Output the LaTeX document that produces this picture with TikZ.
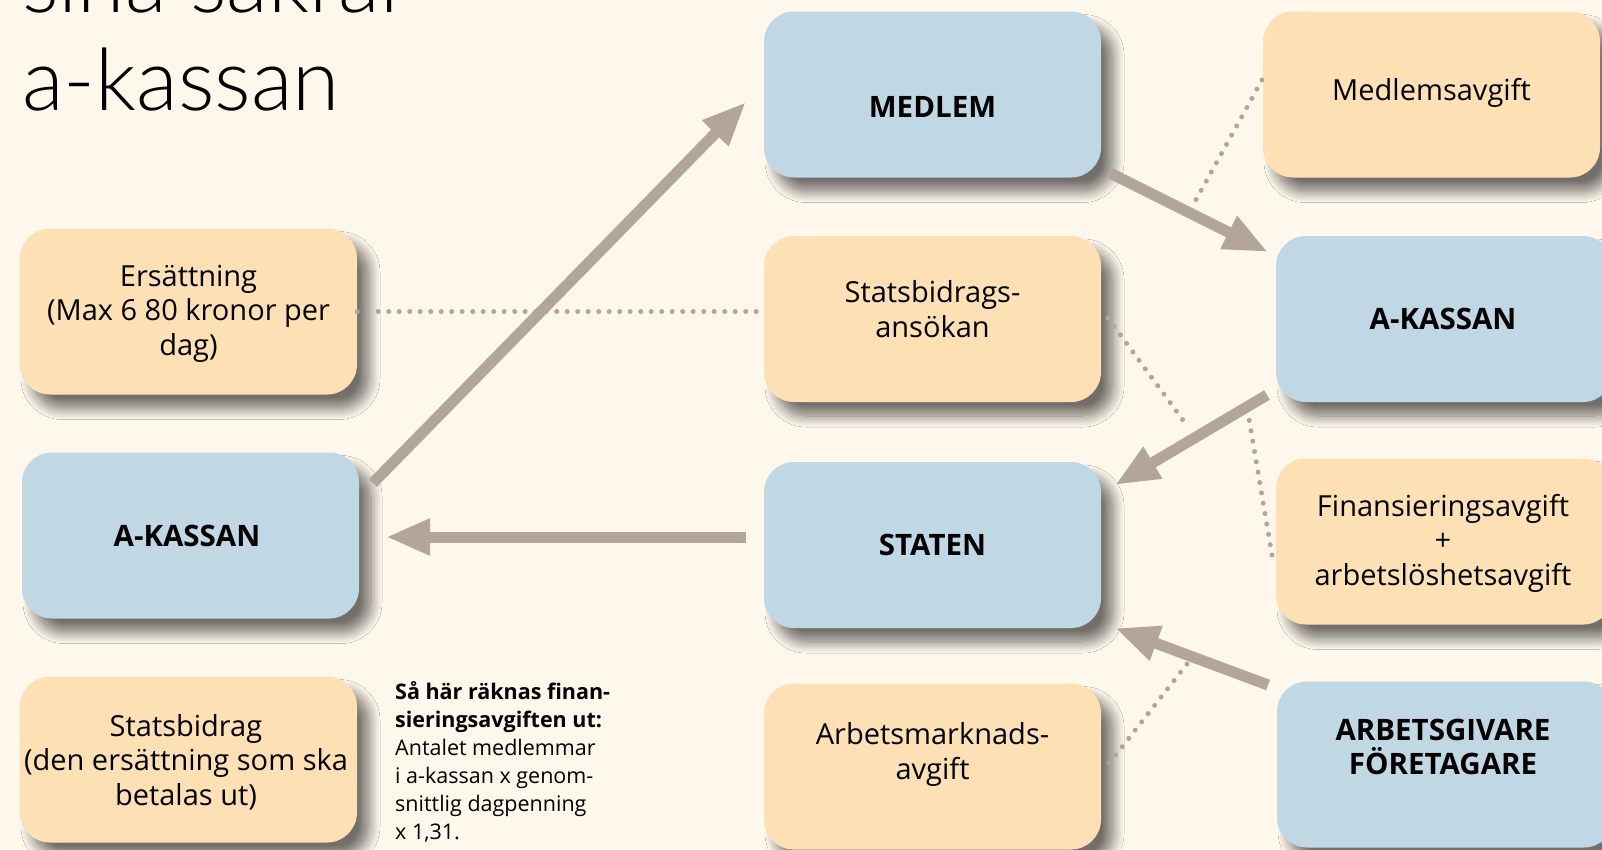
\documentclass[tikz,border=0pt]{standalone}
\usepackage{fontspec}
\setmainfont{Open Sans}
\newfontfamily\titlefont{Lato Light}
\usetikzlibrary{arrows.meta,shadows.blur}
\definecolor{bg}{HTML}{FDF7EC}
\definecolor{boxblue}{HTML}{C0D7E4}
\definecolor{boxorange}{HTML}{FDE1B5}
\definecolor{arrowc}{HTML}{B3A59C}
\begin{document}
\begin{tikzpicture}[x=1pt,y=-1pt,
  box/.style={rounded corners=30pt, minimum width=337pt, minimum height=166pt, inner sep=0pt,
    blur shadow={shadow xshift=12pt, shadow yshift=-14pt, shadow blur radius=11pt, shadow blur steps=12, shadow opacity=55}},
  bluebox/.style={box, fill=boxblue},
  orangebox/.style={box, fill=boxorange},
  flow/.style={draw=arrowc, line width=11pt, -{Triangle[length=44pt,width=34pt]}},
  dots/.style={draw=arrowc, line width=5pt, line cap=round, dash pattern=on 0pt off 10.5pt},
  lbl/.style={align=center, anchor=base, inner sep=0pt, font=\fontsize{29}{34.5}\selectfont},
  blbl/.style={align=center, anchor=base, inner sep=0pt, font=\fontsize{29.5}{33.5}\selectfont\bfseries},
  note/.style={align=left, anchor=base west, inner sep=0pt, font=\fontsize{21.5}{28}\selectfont},
  ttl/.style={anchor=base west, inner sep=0pt, font=\titlefont\fontsize{86}{98}\selectfont}]
\path[use as bounding box, fill=bg] (0,0) rectangle (1602,849);
\clip (0,0) rectangle (1602,849);

% title
\node[ttl] (titleA) at (22,12) {sina säkrar};
\node[ttl] (titleB) at (22,110) {a-kassan};

% boxes
\node[bluebox] (medlem) at (932.5,94.5) {};
\node[orangebox] (mavg) at (1431.5,94.5) {};
\node[orangebox] (ers) at (188.5,311.5) {};
\node[orangebox] (sbans) at (932.5,319) {};
\node[bluebox] (akR) at (1444.5,319) {};
\node[bluebox] (akL) at (190.5,535.5) {};
\node[bluebox] (staten) at (932.5,545) {};
\node[orangebox] (fin) at (1444.5,541.5) {};
\node[orangebox] (sb) at (188.5,759.5) {};
\node[orangebox] (amavg) at (932.5,766.5) {};
\node[bluebox] (arb) at (1445.5,764.5) {};

% labels (base anchor = baseline of last line)
\node[blbl] (tMedlem) at (932.5,117) {MEDLEM};
\node[lbl] (tMavg) at (1431.5,100) {Medlemsavgift};
\node[lbl] (tErs) at (188.5,355) {Ersättning\\(Max 6 80 kronor per\\dag)};
\node[lbl] (tSbans) at (932.5,337) {Statsbidrags-\\ansökan};
\node[blbl] (tAkR) at (1443,329) {A-KASSAN};
\node[blbl] (tAkL) at (187,546) {A-KASSAN};
\node[blbl] (tStaten) at (932.5,555) {STATEN};
\node[lbl] (tFin) at (1443,585) {Finansieringsavgift\\+\\arbetslöshetsavgift};
\node[lbl] (tSb) at (186,805) {Statsbidrag\\(den ersättning som ska\\betalas ut)};
\node[lbl] (tAmavg) at (932.5,779) {Arbetsmarknads-\\avgift};
\node[blbl] (tArb) at (1443,774) {ARBETSGIVARE\\FÖRETAGARE};
\node[note] (tNote) at (395,839) {\textbf{Så här räknas finan-}\\\textbf{sieringsavgiften ut:}\\Antalet medlemmar\\i a-kassan x genom-\\snittlig dagpenning\\x 1,31.};

% arrow end points
\coordinate (a1s) at (373,483);  \coordinate (a1e) at (746,102);
\coordinate (a2s) at (1110,173); \coordinate (a2e) at (1268,252);
\coordinate (a3s) at (1267,395); \coordinate (a3e) at (1115,485);
\coordinate (a4s) at (746,537);  \coordinate (a4e) at (386,537);
\coordinate (a5s) at (1268,685); \coordinate (a5e) at (1115,628);
% dotted end points
\coordinate (d2s) at (1262,80);  \coordinate (d2e) at (1192,207);
\coordinate (d3s) at (1108,318); \coordinate (d3e) at (1188,427);
\coordinate (d4s) at (1272,555); \coordinate (d4e) at (1249,419);
\coordinate (d5s) at (1187,664); \coordinate (d5e) at (1104,770);

% arrows
\draw[flow] (a1s) -- (a1e);
\draw[flow] (a2s) -- (a2e);
\draw[flow] (a3s) -- (a3e);
\draw[flow] (a4s) -- (a4e);
\draw[flow] (a5s) -- (a5e);

% dotted links
\draw[dots] (ers.east) -- (ers.east -| sbans.west);
\draw[dots] (d2s) -- (d2e);
\draw[dots] (d3s) -- (d3e);
\draw[dots] (d4s) -- (d4e);
\draw[dots] (d5s) -- (d5e);
\end{tikzpicture}
\end{document}
